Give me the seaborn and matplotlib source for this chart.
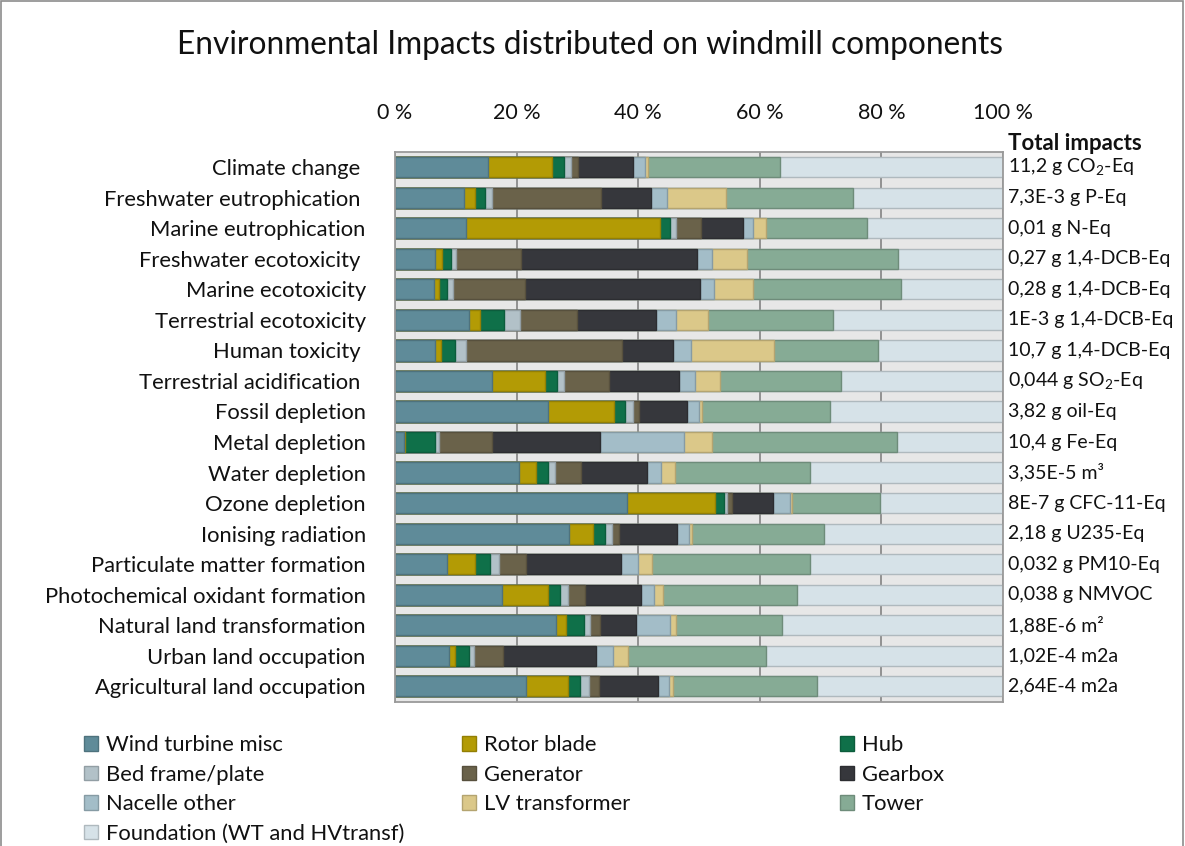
import matplotlib
matplotlib.use("Agg")
import matplotlib.pyplot as plt
import matplotlib.colors as mcolors
import matplotlib.transforms as mtransforms
from matplotlib.patches import Patch, Rectangle
import numpy as np
import pandas as pd
import seaborn as sns

# Impact categories (top to bottom)
categories = [
    "Climate change ",
    "Freshwater eutrophication ",
    "Marine eutrophication",
    "Freshwater ecotoxicity ",
    "Marine ecotoxicity",
    "Terrestrial ecotoxicity",
    "Human toxicity ",
    "Terrestrial acidification ",
    "Fossil depletion",
    "Metal depletion",
    "Water depletion",
    "Ozone depletion",
    "Ionising radiation",
    "Particulate matter formation",
    "Photochemical oxidant formation",
    "Natural land transformation",
    "Urban land occupation",
    "Agricultural land occupation",
]

components = [
    "Wind turbine misc", "Rotor blade", "Hub", "Bed frame/plate", "Generator",
    "Gearbox", "Nacelle other", "LV transformer", "Tower",
    "Foundation (WT and HVtransf)",
]

# Share of each impact (%) per component, in category order
wind_turbine_misc = [15.3, 11.4, 11.6, 6.6, 6.4, 12.2, 6.6, 15.9, 25.2, 1.4, 20.4, 38.2, 28.6, 8.6, 17.6, 26.5, 8.8, 21.6]
rotor_blade       = [10.6, 1.8, 32.0, 1.2, 0.9, 1.8, 0.9, 8.8, 10.8, 0.2, 2.8, 14.4, 4.0, 4.5, 7.6, 1.7, 1.1, 6.8]
hub               = [1.9, 1.6, 1.6, 1.4, 1.3, 4.0, 2.4, 1.9, 1.9, 4.9, 2.0, 1.5, 2.0, 2.5, 1.9, 2.9, 2.2, 2.1]
bed_frame         = [1.2, 1.1, 1.0, 0.8, 0.9, 2.5, 1.7, 1.2, 1.3, 0.7, 1.1, 0.5, 1.1, 1.5, 1.3, 0.9, 0.9, 1.4]
generator         = [1.1, 18.0, 4.1, 10.8, 11.9, 9.5, 25.7, 7.4, 1.0, 8.7, 4.3, 0.9, 1.2, 4.4, 2.9, 1.7, 4.8, 1.6]
gearbox           = [9.0, 8.2, 6.9, 28.9, 28.8, 13.0, 8.4, 11.5, 7.8, 17.8, 10.9, 6.7, 9.4, 15.6, 9.2, 5.9, 15.2, 9.7]
nacelle_other     = [2.0, 2.7, 1.7, 2.4, 2.3, 3.2, 3.0, 2.7, 2.0, 13.8, 2.3, 2.7, 2.0, 2.8, 2.1, 5.7, 2.9, 1.8]
lv_transformer    = [0.5, 9.6, 2.2, 5.8, 6.4, 5.2, 13.6, 4.0, 0.5, 4.7, 2.3, 0.4, 0.6, 2.4, 1.5, 0.9, 2.5, 0.7]
tower             = [21.7, 20.9, 16.6, 24.8, 24.4, 20.6, 17.1, 20.0, 21.0, 30.4, 22.2, 14.4, 21.6, 25.9, 22.0, 17.4, 22.7, 23.7]
foundation        = [36.7, 24.7, 22.3, 17.3, 16.7, 28.0, 20.6, 26.6, 28.5, 17.4, 31.7, 20.3, 29.5, 31.8, 33.9, 36.4, 38.9, 30.6]

# Total impact per category (shown right of the bars)
total_impacts = [
    r"11,2 g CO$_\mathregular{2}$-Eq",
    "7,3E-3 g P-Eq",
    "0,01 g N-Eq",
    "0,27 g 1,4-DCB-Eq",
    "0,28 g 1,4-DCB-Eq",
    "1E-3 g 1,4-DCB-Eq",
    "10,7 g 1,4-DCB-Eq",
    r"0,044 g SO$_\mathregular{2}$-Eq",
    "3,82 g oil-Eq",
    "10,4 g Fe-Eq",
    "3,35E-5 m³",
    "8E-7 g CFC-11-Eq",
    "2,18 g U235-Eq",
    "0,032 g PM10-Eq",
    "0,038 g NMVOC",
    "1,88E-6 m²",
    "1,02E-4 m2a",
    "2,64E-4 m2a",
]

tick_values = [0, 20, 40, 60, 80, 100]
tick_labels = ["0 %", "20 %", "40 %", "60 %", "80 %", "100 %"]

palette = {
    "Wind turbine misc": "#5f8b99",
    "Rotor blade": "#b39b05",
    "Hub": "#0f7049",
    "Bed frame/plate": "#b2c1c8",
    "Generator": "#6a624a",
    "Gearbox": "#36373c",
    "Nacelle other": "#a3bdc8",
    "LV transformer": "#dbc889",
    "Tower": "#86ab95",
    "Foundation (WT and HVtransf)": "#d6e2e8",
}


def darker(c, f=0.82):
    r, g, b = mcolors.to_rgb(c)
    return (r * f, g * f, b * f)


sns.set_theme(style="white")
plt.rcParams["font.family"] = ["Lato", "DejaVu Sans"]
plt.rcParams["mathtext.fontset"] = "custom"
plt.rcParams["mathtext.rm"] = "Lato"
plt.rcParams["text.color"] = "#111111"

share = pd.DataFrame(
    dict(zip(components, [wind_turbine_misc, rotor_blade, hub, bed_frame, generator,
                          gearbox, nacelle_other, lv_transformer, tower, foundation])),
    index=categories,
)
share = share.div(share.sum(axis=1), axis=0) * 100
cum = share.cumsum(axis=1)

fig = plt.figure(figsize=(11.85, 8.46), dpi=100)
ax = fig.add_axes([395 / 1185, 1 - 701.5 / 846, 608 / 1185, 549.5 / 846])
ax.set_facecolor("#e7e7e7")

# 100 % stacked bars: draw cumulative totals from the last component backwards
for comp in reversed(components):
    d = pd.DataFrame({"category": categories, "value": cum[comp].values})
    sns.barplot(data=d, x="value", y="category", order=categories, orient="h",
                color=palette[comp], saturation=1, width=0.66,
                edgecolor=darker(palette[comp]), linewidth=1.0, ax=ax)

ax.set_xlim(0, 100)
ax.set_ylim(len(categories) - 0.5, -0.5)
ax.set_xlabel("")
ax.set_ylabel("")
ax.xaxis.tick_top()
ax.set_xticks(tick_values)
ax.set_xticklabels(tick_labels)
ax.tick_params(axis="x", length=0, pad=21, labelsize=15.5, labelcolor="#111111")
ax.tick_params(axis="y", length=0, pad=21, labelsize=15.8, labelcolor="#111111")
ax.xaxis.grid(True, color="#8a8a8a", linewidth=1.3)
ax.yaxis.grid(False)
ax.set_axisbelow(True)
for s in ax.spines.values():
    s.set_color("#9a9a9a")
    s.set_linewidth(1.3)

# Total impact labels right of the plot
trans = mtransforms.blended_transform_factory(ax.transAxes, ax.transData)
for i, txt in enumerate(total_impacts):
    ax.text(1.008, i, txt, transform=trans, ha="left", va="center", fontsize=14)
fig.text(1008 / 1185, 1 - 143 / 846, "Total impacts", ha="left", va="center",
         fontsize=16, fontweight="bold")

fig.text(590 / 1185, 1 - 45 / 846,
         "Environmental Impacts distributed on windmill components",
         ha="center", va="center", fontsize=22.8)

# Legend laid out in three columns, filled row by row
handles = {c: Patch(facecolor=palette[c], edgecolor=darker(palette[c]), linewidth=1.0, label=c)
           for c in components}
columns = [
    (["Wind turbine misc", "Bed frame/plate", "Nacelle other", "Foundation (WT and HVtransf)"], 84),
    (["Rotor blade", "Generator", "LV transformer"], 462),
    (["Hub", "Gearbox", "Tower"], 840),
]
for names, xpix in columns:
    fig.legend(handles=[handles[n] for n in names], loc="upper left",
               bbox_to_anchor=(xpix / 1185, 1 - 735 / 846), frameon=False,
               fontsize=15.8, handlelength=0.65, handleheight=0.65, handletextpad=0.35,
               labelspacing=0.435, borderpad=0, borderaxespad=0)

# Outer chart frame
fig.add_artist(Rectangle((0.001, -0.1), 0.997, 1.099, transform=fig.transFigure,
                         fill=False, edgecolor="#8c8c8c", linewidth=1.2))

fig.savefig("out.png", dpi=100)
